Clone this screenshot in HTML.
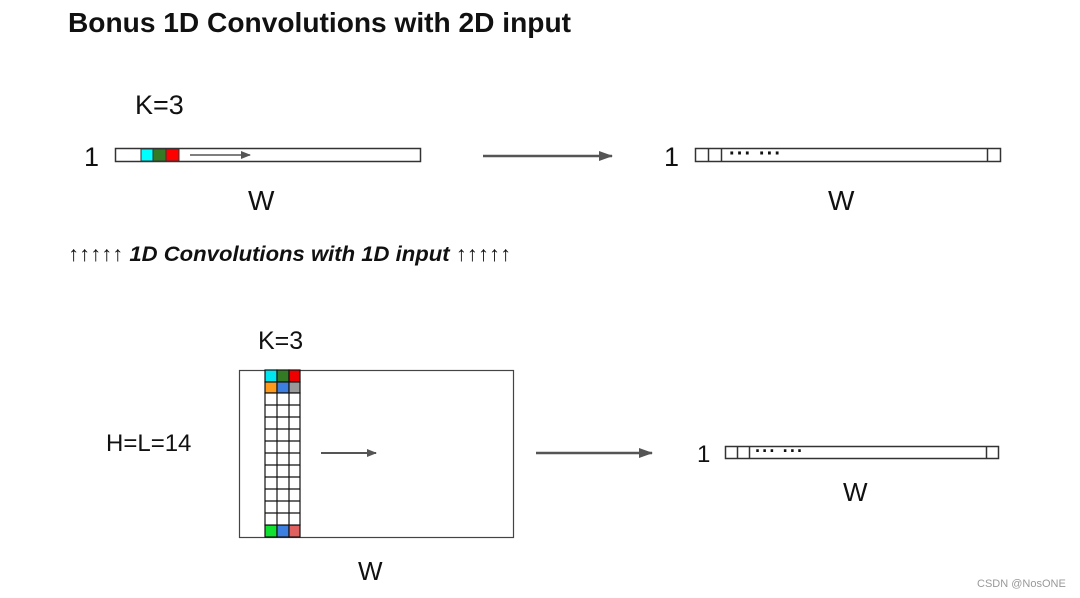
<!DOCTYPE html>
<html><head><meta charset="utf-8"><style>
html,body{margin:0;padding:0;background:#fff;}
svg{display:block;}
text{font-family:"Liberation Sans",sans-serif;}
</style></head><body>
<svg width="1080" height="598" viewBox="0 0 1080 598" xmlns="http://www.w3.org/2000/svg">
<defs>
<marker id="ah" markerWidth="10" markerHeight="8" refX="9" refY="4" orient="auto" markerUnits="userSpaceOnUse"><path d="M0,0 L10,4 L0,8 z" fill="#555"/></marker>
<marker id="ah2" markerWidth="14" markerHeight="10" refX="13" refY="5" orient="auto" markerUnits="userSpaceOnUse"><path d="M0,0 L14,5 L0,10 z" fill="#555"/></marker>
</defs>
<text x="68" y="32" font-size="28" font-weight="bold" fill="#111" textLength="503" lengthAdjust="spacingAndGlyphs">Bonus 1D Convolutions with 2D input</text>

<!-- top left -->
<text x="135" y="114" font-size="27" fill="#111">K=3</text>
<text x="84" y="166" font-size="27" fill="#111">1</text>
<rect x="115.5" y="148.5" width="305" height="13" fill="#fff" stroke="#333" stroke-width="1.5"/>
<rect x="141" y="149" width="12" height="12" fill="#00ffff" stroke="#333"/>
<rect x="153" y="149" width="13" height="12" fill="#347a25" stroke="#333"/>
<rect x="166" y="149" width="13" height="12" fill="#ff0000" stroke="#333"/>
<line x1="190" y1="155" x2="250" y2="155" stroke="#555" stroke-width="1.5" marker-end="url(#ah)"/>
<text x="248" y="210" font-size="28" fill="#111">W</text>

<line x1="483" y1="156" x2="612" y2="156" stroke="#555" stroke-width="2.5" marker-end="url(#ah2)"/>

<!-- top right -->
<text x="664" y="166" font-size="27" fill="#111">1</text>
<rect x="695.5" y="148.5" width="305" height="13" fill="#fff" stroke="#333" stroke-width="1.5"/>
<line x1="708.5" y1="149" x2="708.5" y2="161" stroke="#333" stroke-width="1.5"/>
<line x1="721.5" y1="149" x2="721.5" y2="161" stroke="#333" stroke-width="1.5"/>
<line x1="987.5" y1="149" x2="987.5" y2="161" stroke="#333" stroke-width="1.5"/>
<text x="729" y="160" font-size="20" font-weight="bold" fill="#111" textLength="52" lengthAdjust="spacing">··· ···</text>
<text x="828" y="210" font-size="28" fill="#111">W</text>

<text x="68" y="261" font-size="21" fill="#111" textLength="443" lengthAdjust="spacingAndGlyphs">↑↑↑↑↑ <tspan font-weight="bold" font-style="italic">1D Convolutions with 1D input</tspan> ↑↑↑↑↑</text>

<!-- bottom -->
<text x="258" y="349" font-size="25" fill="#111">K=3</text>
<text x="106" y="451" font-size="24" fill="#111">H=L=14</text>
<rect x="239.5" y="370.5" width="274" height="167" fill="#fff" stroke="#444" stroke-width="1.2"/>
<g stroke="#111" stroke-width="1.2">
<rect x="265" y="370" width="12" height="12" fill="#00e5f0"/>
<rect x="277" y="370" width="12" height="12" fill="#347a25"/>
<rect x="289" y="370" width="11" height="12" fill="#ee0000"/>
<rect x="265" y="382" width="12" height="11" fill="#ff9a1a"/>
<rect x="277" y="382" width="12" height="11" fill="#3d7fe0"/>
<rect x="289" y="382" width="11" height="11" fill="#999"/>
<rect x="265" y="525" width="12" height="12" fill="#10e030"/>
<rect x="277" y="525" width="12" height="12" fill="#3d7fe0"/>
<rect x="289" y="525" width="11" height="12" fill="#e06060"/>
<rect x="265" y="393" width="35" height="132" fill="#fff"/>
<line x1="277" y1="393" x2="277" y2="525"/>
<line x1="289" y1="393" x2="289" y2="525"/>
<line x1="265" y1="405" x2="300" y2="405"/>
<line x1="265" y1="417" x2="300" y2="417"/>
<line x1="265" y1="429" x2="300" y2="429"/>
<line x1="265" y1="441" x2="300" y2="441"/>
<line x1="265" y1="453" x2="300" y2="453"/>
<line x1="265" y1="465" x2="300" y2="465"/>
<line x1="265" y1="477" x2="300" y2="477"/>
<line x1="265" y1="489" x2="300" y2="489"/>
<line x1="265" y1="501" x2="300" y2="501"/>
<line x1="265" y1="513" x2="300" y2="513"/>
</g>
<line x1="321" y1="453" x2="376" y2="453" stroke="#555" stroke-width="2" marker-end="url(#ah)"/>
<line x1="536" y1="453" x2="652" y2="453" stroke="#555" stroke-width="2.5" marker-end="url(#ah2)"/>
<text x="358" y="580" font-size="26" fill="#111">W</text>

<text x="697" y="462" font-size="24" fill="#111">1</text>
<rect x="725.5" y="446.5" width="273" height="12" fill="#fff" stroke="#333" stroke-width="1.5"/>
<line x1="737.5" y1="447" x2="737.5" y2="458" stroke="#333" stroke-width="1.5"/>
<line x1="749.5" y1="447" x2="749.5" y2="458" stroke="#333" stroke-width="1.5"/>
<line x1="986.5" y1="447" x2="986.5" y2="458" stroke="#333" stroke-width="1.5"/>
<text x="755" y="457" font-size="18" font-weight="bold" fill="#111" textLength="48" lengthAdjust="spacing">··· ···</text>
<text x="843" y="501" font-size="26" fill="#111">W</text>

<text x="977" y="587" font-size="11" fill="#999">CSDN @NosONE</text>
</svg>
</body></html>
